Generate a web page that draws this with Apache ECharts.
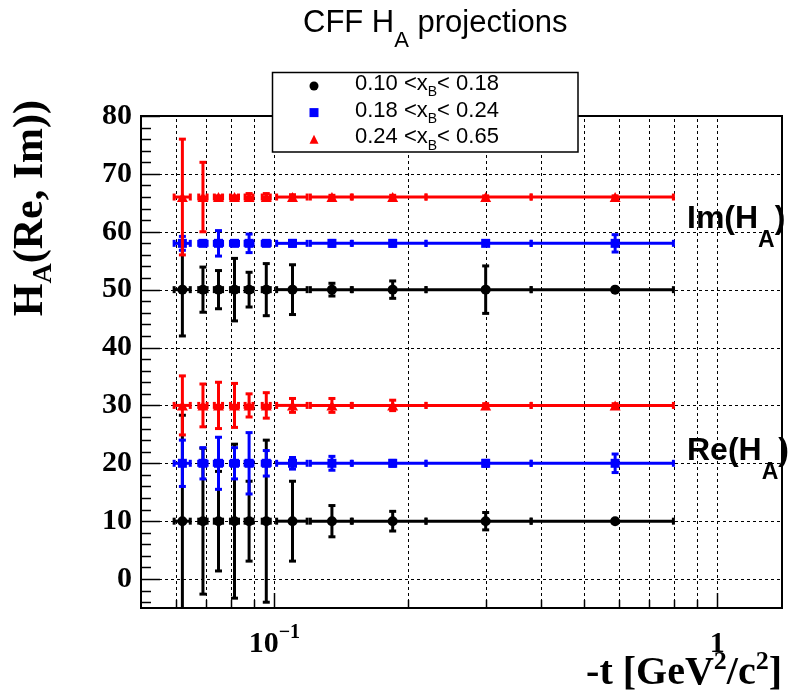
<!DOCTYPE html>
<html>
<head>
<meta charset="utf-8">
<script src="https://cdn.jsdelivr.net/npm/echarts@6/dist/echarts.min.js"></script>
<style>html,body{margin:0;padding:0;background:#fff}#c{width:790px;height:699px}</style>
</head>
<body>
<div id="c"></div>
<script>
// ---------------- data ----------------
const binLabels = ['0.10 <x_B< 0.18', '0.18 <x_B< 0.24', '0.24 <x_B< 0.65'];
const binColors = ['#000000', '#0000ff', '#ff0000'];
const binSymbols = ['circle', 'rect', 'triangle'];
const binSymbolSizes = [10, 9, [11, 10]];

const tValues = [0.062, 0.069, 0.0748, 0.0813, 0.0877, 0.0959, 0.1099, 0.1349, 0.185, 0.300, 0.588];
const tErrors = [0.0026, 0.0015, 0.0016, 0.0017, 0.0018, 0.0020, 0.0087, 0.0143, 0.035, 0.080, 0.208];

const imBin1 = [50, 50, 50, 50, 50, 50, 50, 50, 50, 50, 50];
const imBin1Err = [8.0, 3.9, 3.3, 5.4, 3.0, 4.5, 4.3, 1.1, 1.5, 4.1, 0.2];
const imBin2 = [58, 58, 58, 58, 58, 58, 58, 58, 58, 58, 58];
const imBin2Err = [1.2, 0.3, 2.2, 0.3, 1.6, 0.3, 0.5, 0.5, 0.5, 0.3, 1.5];
const imBin3 = [66, 66, 66, 66, 66, 66, 66, 66, 66, 66, 66];
const imBin3Err = [10.0, 6.0, 0.2, 0.2, 0.6, 0.6, 0.4, 0.3, 0.3, 0.2, 0.2];

const reBin1 = [10, 10, 10, 10, 10, 10, 10, 10, 10, 10, 10];
const reBin1Err = [18.3, 12.6, 8.6, 13.3, 6.9, 14.0, 6.9, 2.7, 1.7, 1.5, 0.2];
const reBin2 = [20, 20, 20, 20, 20, 20, 20, 20, 20, 20, 20];
const reBin2Err = [4.0, 2.7, 4.5, 2.7, 5.3, 2.2, 1.0, 1.2, 0.5, 0.5, 1.6];
const reBin3 = [30, 30, 30, 30, 30, 30, 30, 30, 30, 30, 30];
const reBin3Err = [5.1, 3.7, 4.0, 3.8, 2.0, 2.2, 1.2, 1.2, 0.9, 0.3, 0.3];

const xGridValues = [0.06, 0.07, 0.08, 0.09, 0.1, 0.2, 0.3, 0.4, 0.5, 0.6, 0.7, 0.8, 0.9, 1];
const xMajorTicks = [0.1, 1];
const yMajorTicks = [0, 10, 20, 30, 40, 50, 60, 70, 80];
const yMinorTicks = [-4, -2, 2, 4, 6, 8, 12, 14, 16, 18, 22, 24, 26, 28, 32, 34, 36, 38,
  42, 44, 46, 48, 52, 54, 56, 58, 62, 64, 66, 68, 72, 74, 76, 78];

const X_MIN = 0.05, X_MAX = 1.4, Y_MIN = -5, Y_MAX = 80;

// ---------------- build ----------------
const bins = [
  { im: imBin1, imErr: imBin1Err, re: reBin1, reErr: reBin1Err },
  { im: imBin2, imErr: imBin2Err, re: reBin2, reErr: reBin2Err },
  { im: imBin3, imErr: imBin3Err, re: reBin3, reErr: reBin3Err }
];

const px = v => Math.round(v) + 0.5;

function gridLine(p1, p2) {
  return { type: 'line', shape: { x1: p1[0], y1: p1[1], x2: p2[0], y2: p2[1] },
    style: { stroke: '#000', lineWidth: 1, lineDash: [3, 3] } };
}

const series = [];

series.push({
  type: 'custom', name: 'vgrid', silent: true, z: 1,
  encode: { x: 0, y: 1 },
  data: xGridValues.map(v => [v, Y_MIN]),
  renderItem: (params, api) => {
    const v = api.value(0);
    const a = api.coord([v, Y_MIN]), b = api.coord([v, Y_MAX]);
    return gridLine([px(a[0]), a[1]], [px(b[0]), b[1]]);
  }
});
series.push({
  type: 'custom', name: 'hgrid', silent: true, z: 1,
  encode: { x: 0, y: 1 },
  data: yMajorTicks.map(v => [X_MIN, v]),
  renderItem: (params, api) => {
    const v = api.value(1);
    const a = api.coord([X_MIN, v]), b = api.coord([X_MAX, v]);
    return gridLine([a[0], px(a[1])], [b[0], px(b[1])]);
  }
});
series.push({
  type: 'custom', name: 'xticks', silent: true, z: 2,
  encode: { x: 0, y: 1 },
  data: xGridValues.map(v => [v, Y_MIN]),
  renderItem: (params, api) => {
    const v = api.value(0);
    const a = api.coord([v, Y_MIN]);
    const len = xMajorTicks.indexOf(v) >= 0 ? 15 : 8;
    return { type: 'line', shape: { x1: px(a[0]), y1: a[1], x2: px(a[0]), y2: a[1] - len },
      style: { stroke: '#000', lineWidth: 1.5 } };
  }
});
series.push({
  type: 'custom', name: 'yticks', silent: true, z: 2,
  encode: { x: 0, y: 1 },
  data: yMajorTicks.map(v => [X_MIN, v, 1]).concat(yMinorTicks.map(v => [X_MIN, v, 0])),
  renderItem: (params, api) => {
    const v = api.value(1);
    const a = api.coord([X_MIN, v]);
    const len = api.value(2) ? 19 : 10;
    return { type: 'line', shape: { x1: a[0], y1: px(a[1]), x2: a[0] + len, y2: px(a[1]) },
      style: { stroke: '#000', lineWidth: 1.5 } };
  }
});

function renderErr(params, api) {
  const x = api.value(0), y = api.value(1), ex = api.value(2), ey = api.value(3);
  const c = api.coord([x, y]);
  const l = api.coord([x - ex, y]), r = api.coord([x + ex, y]);
  const t = api.coord([x, y + ey]), b = api.coord([x, y - ey]);
  const color = api.visual('color');
  const st = { stroke: color, lineWidth: 3 };
  const cap = 3.5;
  const ln = (x1, y1, x2, y2) => ({ type: 'line', shape: { x1, y1, x2, y2 }, style: st });
  return { type: 'group', children: [
    ln(l[0], c[1], r[0], c[1]),
    ln(l[0], c[1] - cap, l[0], c[1] + cap),
    ln(r[0], c[1] - cap, r[0], c[1] + cap),
    ln(c[0], t[1], c[0], b[1]),
    ln(c[0] - cap, t[1], c[0] + cap, t[1]),
    ln(c[0] - cap, b[1], c[0] + cap, b[1])
  ] };
}

bins.forEach((bin, k) => {
  const errData = tValues.map((x, i) => [x, bin.im[i], tErrors[i], bin.imErr[i]])
    .concat(tValues.map((x, i) => [x, bin.re[i], tErrors[i], bin.reErr[i]]));
  series.push({
    type: 'custom', name: 'err' + k, silent: true, clip: true, z: 3 + 2 * k,
    encode: { x: 0, y: 1 },
    itemStyle: { color: binColors[k] },
    data: errData,
    renderItem: renderErr
  });
  series.push({
    type: 'scatter', name: binLabels[k], silent: true, z: 4 + 2 * k,
    symbol: binSymbols[k], symbolSize: binSymbolSizes[k],
    itemStyle: { color: binColors[k], opacity: 1 },
    data: tValues.map((x, i) => [x, bin.im[i]]).concat(tValues.map((x, i) => [x, bin.re[i]]))
  });
});

const sansFam = 'Liberation Sans, Arial, sans-serif';
const serifFam = 'Liberation Serif, Times New Roman, serif';

const option = {
  animation: false,
  backgroundColor: '#ffffff',
  title: {
    text: '{m|CFF H}{s|A}{m| projections}',
    left: 303, top: 7.6, padding: 0,
    textStyle: {
      fontFamily: sansFam, fontSize: 31, fontWeight: 'normal', color: '#000', lineHeight: 36,
      rich: {
        m: { fontFamily: sansFam, fontSize: 31, lineHeight: 36, color: '#000', verticalAlign: 'top' },
        s: { fontFamily: sansFam, fontSize: 22, lineHeight: 22, color: '#000', verticalAlign: 'top', padding: [22.5, 0, 0, 0] }
      }
    }
  },
  legend: {
    data: binLabels, orient: 'vertical', left: 309.5, top: 73, padding: 0,
    itemWidth: 9, itemHeight: 9, itemGap: 0, z: 12, selectedMode: false,
    formatter: name => {
      const parts = name.split('<x_B<');
      return '{f|' + parts[0] + '<x}{s|B}{t|<' + parts[1] + '}';
    },
    textStyle: {
      fontFamily: sansFam, fontSize: 22, color: '#000', lineHeight: 26,
      rich: {
        f: { fontFamily: sansFam, fontSize: 22, lineHeight: 26, color: '#000', verticalAlign: 'top', padding: [0, 0, 0, 31.5] },
        t: { fontFamily: sansFam, fontSize: 22, lineHeight: 26, color: '#000', verticalAlign: 'top' },
        s: { fontFamily: sansFam, fontSize: 14, lineHeight: 14, color: '#000', verticalAlign: 'top', padding: [12.6, 0, 0, 0] }
      }
    }
  },
  grid: {
    left: 141, right: 8, top: 116, bottom: 91,
    show: true, borderColor: '#000', borderWidth: 2, backgroundColor: 'transparent',
    containLabel: false, outerBoundsMode: 'none'
  },
  xAxis: {
    type: 'log', logBase: 10, min: X_MIN, max: X_MAX,
    axisLine: { show: false }, axisTick: { show: false }, splitLine: { show: false },
    minorTick: { show: false }, minorSplitLine: { show: false },
    axisLabel: {
      show: true, margin: 15, showMinLabel: false, showMaxLabel: false, color: '#000',
      formatter: v => {
        const e = Math.log10(v);
        if (Math.abs(e - Math.round(e)) > 1e-6) return '';
        const n = Math.round(e);
        if (n === 0) return '{b|1}';
        return '{b|10}{p|' + (n < 0 ? '\u2212' : '') + Math.abs(n) + '}';
      },
      rich: {
        b: { fontFamily: serifFam, fontWeight: 'bold', fontSize: 30, lineHeight: 36, color: '#000', verticalAlign: 'top', padding: [6, 0, 0, 0] },
        p: { fontFamily: serifFam, fontWeight: 'bold', fontSize: 20, lineHeight: 20, color: '#000', verticalAlign: 'top' }
      }
    },
    name: '{m|-t [GeV}{u|2}{m|/c}{u|2}{m|]}',
    nameLocation: 'end', nameGap: 0, nameMoveOverlap: false,
    nameTextStyle: {
      align: 'right', verticalAlign: 'top', padding: [70, 0, 0, 0],
      fontFamily: serifFam, fontWeight: 'bold', fontSize: 40, color: '#000', lineHeight: 46,
      rich: {
        m: { fontFamily: serifFam, fontWeight: 'bold', fontSize: 40, lineHeight: 46, color: '#000', verticalAlign: 'top', padding: [5, 0, 0, 0] },
        u: { fontFamily: serifFam, fontWeight: 'bold', fontSize: 26, lineHeight: 26, color: '#000', verticalAlign: 'top' }
      }
    }
  },
  yAxis: {
    type: 'value', min: Y_MIN, max: Y_MAX, interval: 5,
    axisLine: { show: false }, axisTick: { show: false }, splitLine: { show: false },
    axisLabel: {
      margin: 9, fontFamily: serifFam, fontWeight: 'bold', fontSize: 30, color: '#000',
      formatter: v => (v % 10 === 0 ? String(v) : '')
    },
    name: '{m|H}{s|A}{m|(Re, Im))}',
    nameLocation: 'end', nameGap: 16, nameRotate: 90, nameMoveOverlap: false,
    nameTextStyle: {
      align: 'right', verticalAlign: 'bottom', padding: [0, 0, 85, 0],
      fontFamily: serifFam, fontWeight: 'bold', fontSize: 42, color: '#000', lineHeight: 46,
      rich: {
        m: { fontFamily: serifFam, fontWeight: 'bold', fontSize: 42, lineHeight: 46, color: '#000', verticalAlign: 'top' },
        s: { fontFamily: serifFam, fontWeight: 'bold', fontSize: 28, lineHeight: 28, color: '#000', verticalAlign: 'top', padding: [19.6, 0, 0, 0] }
      }
    }
  },
  graphic: [
    { type: 'rect', z: 10, shape: { x: 272.5, y: 72.5, width: 305.5, height: 79.5 },
      style: { fill: '#fff', stroke: '#000', lineWidth: 1.5 } },
    { type: 'text', z: 20, x: 687, y: 203.4,
      style: { text: '{m|Im(H}{s|A}{m|)}', align: 'left', verticalAlign: 'top',
        rich: {
          m: { fontFamily: sansFam, fontWeight: 'bold', fontSize: 32, lineHeight: 36, fill: '#000', verticalAlign: 'top' },
          s: { fontFamily: sansFam, fontWeight: 'bold', fontSize: 23, lineHeight: 23, fill: '#000', verticalAlign: 'top', padding: [25.8, 0, 0, 0] }
        } } },
    { type: 'text', z: 20, x: 687, y: 435.1,
      style: { text: '{m|Re(H}{s|A}{m|)}', align: 'left', verticalAlign: 'top',
        rich: {
          m: { fontFamily: sansFam, fontWeight: 'bold', fontSize: 32, lineHeight: 36, fill: '#000', verticalAlign: 'top' },
          s: { fontFamily: sansFam, fontWeight: 'bold', fontSize: 23, lineHeight: 23, fill: '#000', verticalAlign: 'top', padding: [25.8, 0, 0, 0] }
        } } }
  ],
  series: series
};

const chart = echarts.init(document.getElementById('c'), null, { renderer: 'canvas', width: 790, height: 699 });
chart.setOption(option);
</script>
</body>
</html>
